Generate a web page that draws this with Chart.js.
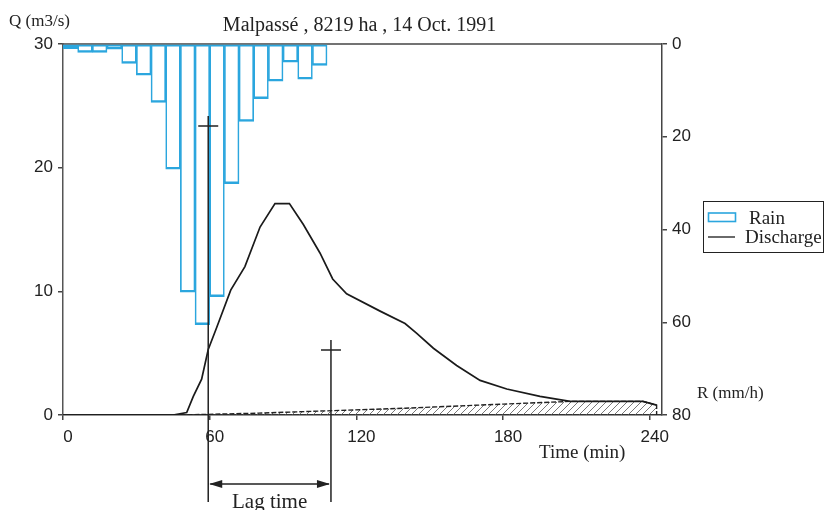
<!DOCTYPE html>
<html>
<head>
<meta charset="utf-8">
<script src="https://cdn.jsdelivr.net/npm/chart.js@4.4.1/dist/chart.umd.min.js"></script>
<style>
  html, body { margin: 0; padding: 0; background: #fff; }
  #wrap { width: 826px; height: 510px; }
</style>
</head>
<body>
<div id="wrap"><canvas id="myChart" width="826" height="510"></canvas></div>
<script>
// rain, 6 min blocks (bar centres), mm/h
const rainTime = [3, 9, 15, 21, 27, 33, 39, 45, 51, 57, 63, 69, 75, 81, 87, 93, 99, 105];
const rainR = [1.0, 1.8, 1.8, 1.1, 4.2, 6.7, 12.6, 27.0, 53.5, 60.5, 54.5, 30.1, 16.7, 11.8, 8.0, 3.9, 7.6, 4.6];

// discharge, m3/s
const qTime = [0, 45, 50.6, 53.3, 56.7, 59.4, 62.9, 68.6, 74.4, 80.6, 86.7, 92.6, 98.3, 105.1, 110.3, 116, 129.7, 139.9, 144.7, 151.5, 161, 170.6, 181.5, 195.1, 207.4, 237.2, 242.8];
const qValue = [0, 0, 0.2, 1.5, 2.9, 5.3, 7.1, 10.1, 12.0, 15.2, 17.1, 17.1, 15.4, 13.1, 11.0, 9.8, 8.4, 7.4, 6.6, 5.4, 4.0, 2.8, 2.1, 1.5, 1.1, 1.1, 0.8];

// baseflow (hatched)
const baseTime = [48, 80, 110, 140, 180, 207.4, 237.2, 242.8, 242.8];
const baseValue = [0, 0.15, 0.35, 0.55, 0.88, 1.1, 1.1, 0.8, 0];

// lag time markers: rain centroid (R axis) and hydrograph centroid (Q axis)
const lagStart = 59.4, lagStartR = 17.7;
const lagEnd = 109.6, lagEndQ = 5.26;

const xTicks = [0, 60, 120, 180, 240];
const qTicks = [0, 10, 20, 30];
const rTicks = [0, 20, 40, 60, 80];

const rainColor = "#2ba6de";
const ink = "#222";
const serif = "'Liberation Serif', 'Times New Roman', serif";
const sans = "'Liberation Sans', Arial, sans-serif";

function toPoints(xs, ys) {
    return xs.map((x, i) => ({ x: x, y: ys[i] }));
}

function hatch() {
    const c = document.createElement("canvas");
    c.width = 7;
    c.height = 7;
    const g = c.getContext("2d");
    g.strokeStyle = "#555";
    g.lineWidth = 0.8;
    g.beginPath();
    g.moveTo(-1, 8);
    g.lineTo(8, -1);
    g.moveTo(-1, 1);
    g.lineTo(1, -1);
    g.moveTo(6, 8);
    g.lineTo(8, 6);
    g.stroke();
    return g.createPattern(c, "repeat");
}

document.addEventListener("DOMContentLoaded", () => {
    const ctx = document.getElementById("myChart").getContext("2d");

    const framePlugin = {
        id: "frame",
        beforeDatasetsDraw: (chart) => {
            const { left, right, top } = chart.chartArea;
            const c = chart.ctx;
            c.save();
            c.strokeStyle = "#444";
            c.lineWidth = 1.5;
            c.beginPath();
            c.moveTo(left, top);
            c.lineTo(right, top);
            c.stroke();
            c.restore();
        },
    };

    const textPlugin = {
        id: "texts",
        afterDraw: (chart) => {
            const c = chart.ctx;
            const { left, right, top, bottom } = chart.chartArea;
            const x = chart.scales.x;
            const y = chart.scales.y;
            const r = chart.scales.y2;
            c.save();
            c.fillStyle = ink;
            c.strokeStyle = ink;
            c.textBaseline = "alphabetic";

            // title and axis names
            c.font = "20px " + serif;
            c.textAlign = "center";
            c.fillText("Malpassé , 8219 ha , 14 Oct. 1991", (left + right) / 2 - 3, 31);
            c.font = "17px " + serif;
            c.textAlign = "left";
            c.fillText("Q (m3/s)", 9, 26);
            c.fillText("R (mm/h)", right + 35, bottom - 17);
            c.font = "19px " + serif;
            c.fillText("Time (min)", 539, bottom + 43);

            // lag time annotation
            c.lineWidth = 1.5;
            const x1 = x.getPixelForValue(lagStart);
            const x2 = x.getPixelForValue(lagEnd);
            const y1 = r.getPixelForValue(lagStartR);
            const y2 = y.getPixelForValue(lagEndQ);
            const yEnd = bottom + 87;
            c.beginPath();
            c.moveTo(x1, y1 - 10);
            c.lineTo(x1, yEnd);
            c.moveTo(x1 - 10, y1);
            c.lineTo(x1 + 10, y1);
            c.moveTo(x2, y2 - 10);
            c.lineTo(x2, yEnd);
            c.moveTo(x2 - 10, y2);
            c.lineTo(x2 + 10, y2);
            const ay = bottom + 69;
            c.moveTo(x1 + 2, ay);
            c.lineTo(x2 - 2, ay);
            c.stroke();
            c.beginPath();
            c.moveTo(x1 + 1, ay);
            c.lineTo(x1 + 14, ay - 4);
            c.lineTo(x1 + 14, ay + 4);
            c.closePath();
            c.moveTo(x2 - 1, ay);
            c.lineTo(x2 - 14, ay - 4);
            c.lineTo(x2 - 14, ay + 4);
            c.closePath();
            c.fill();
            c.font = "21px " + serif;
            c.textAlign = "center";
            c.fillText("Lag time", (x1 + x2) / 2, bottom + 93);

            // legend
            const ds = chart.data.datasets;
            c.lineWidth = 1;
            c.strokeRect(703.5, 201.5, 120, 51);
            c.strokeStyle = ds[0].borderColor;
            c.lineWidth = 1.6;
            c.strokeRect(708.5, 213, 27, 8.5);
            c.strokeStyle = ds[1].borderColor;
            c.lineWidth = 1.3;
            c.beginPath();
            c.moveTo(708, 237);
            c.lineTo(735, 237);
            c.stroke();
            c.font = "19px " + serif;
            c.textAlign = "left";
            c.fillText(ds[0].label, 749, 224);
            c.fillText(ds[1].label, 745, 243);
            c.restore();
        },
    };

    const tickGrid = { drawOnChartArea: false, drawTicks: true, tickLength: 5, color: "#444", lineWidth: 1.5, offset: false };
    const tickFont = { family: sans, size: 17 };

    new Chart(ctx, {
        data: {
            datasets: [
                {
                    type: "bar",
                    label: "Rain",
                    data: toPoints(rainTime, rainR),
                    yAxisID: "y2",
                    backgroundColor: "rgba(255,255,255,0)",
                    borderColor: rainColor,
                    borderWidth: { top: 1.5, left: 1, right: 1, bottom: 1.8 },
                    borderSkipped: false,
                    barPercentage: 1,
                    categoryPercentage: 1,
                    order: 1,
                },
                {
                    type: "line",
                    label: "Discharge",
                    data: toPoints(qTime, qValue),
                    yAxisID: "y",
                    borderColor: "#1a1a1a",
                    borderWidth: 1.7,
                    pointRadius: 0,
                    fill: false,
                    tension: 0,
                    order: 2,
                },
                {
                    type: "line",
                    label: "Baseflow",
                    data: toPoints(baseTime, baseValue),
                    yAxisID: "y",
                    borderColor: "#222",
                    borderWidth: 1.4,
                    borderDash: [5, 2],
                    pointRadius: 0,
                    fill: "origin",
                    backgroundColor: hatch(),
                    tension: 0,
                    order: 3,
                },
            ],
        },
        options: {
            responsive: false,
            animation: false,
            layout: {
                padding: { top: 44, left: 0, right: 124, bottom: 65 },
            },
            plugins: {
                legend: { display: false },
                title: { display: false },
                tooltip: { enabled: false },
            },
            scales: {
                x: {
                    type: "linear",
                    position: "bottom",
                    offset: false,
                    min: 0,
                    max: 245,
                    afterBuildTicks: (s) => { s.ticks = xTicks.map((v) => ({ value: v })); },
                    afterFit: (s) => { s.height = 30; },
                    grid: tickGrid,
                    border: { display: true, color: "#333", width: 1.5 },
                    ticks: { font: tickFont, color: ink, padding: 7, labelOffset: 5, maxRotation: 0 },
                },
                y: {
                    type: "linear",
                    position: "left",
                    min: 0,
                    max: 30,
                    afterBuildTicks: (s) => { s.ticks = qTicks.map((v) => ({ value: v })); },
                    afterFit: (s) => { s.width = 63; },
                    grid: tickGrid,
                    border: { display: true, color: "#555", width: 1.5 },
                    ticks: { font: tickFont, color: ink, padding: 5 },
                },
                y2: {
                    type: "linear",
                    position: "right",
                    reverse: true,
                    min: 0,
                    max: 80,
                    afterBuildTicks: (s) => { s.ticks = rTicks.map((v) => ({ value: v })); },
                    afterFit: (s) => { s.width = 40; },
                    grid: tickGrid,
                    border: { display: true, color: "#444", width: 1.5 },
                    ticks: { font: tickFont, color: ink, padding: 5 },
                },
            },
        },
        plugins: [framePlugin, textPlugin],
    });
});
</script>
</body>
</html>
